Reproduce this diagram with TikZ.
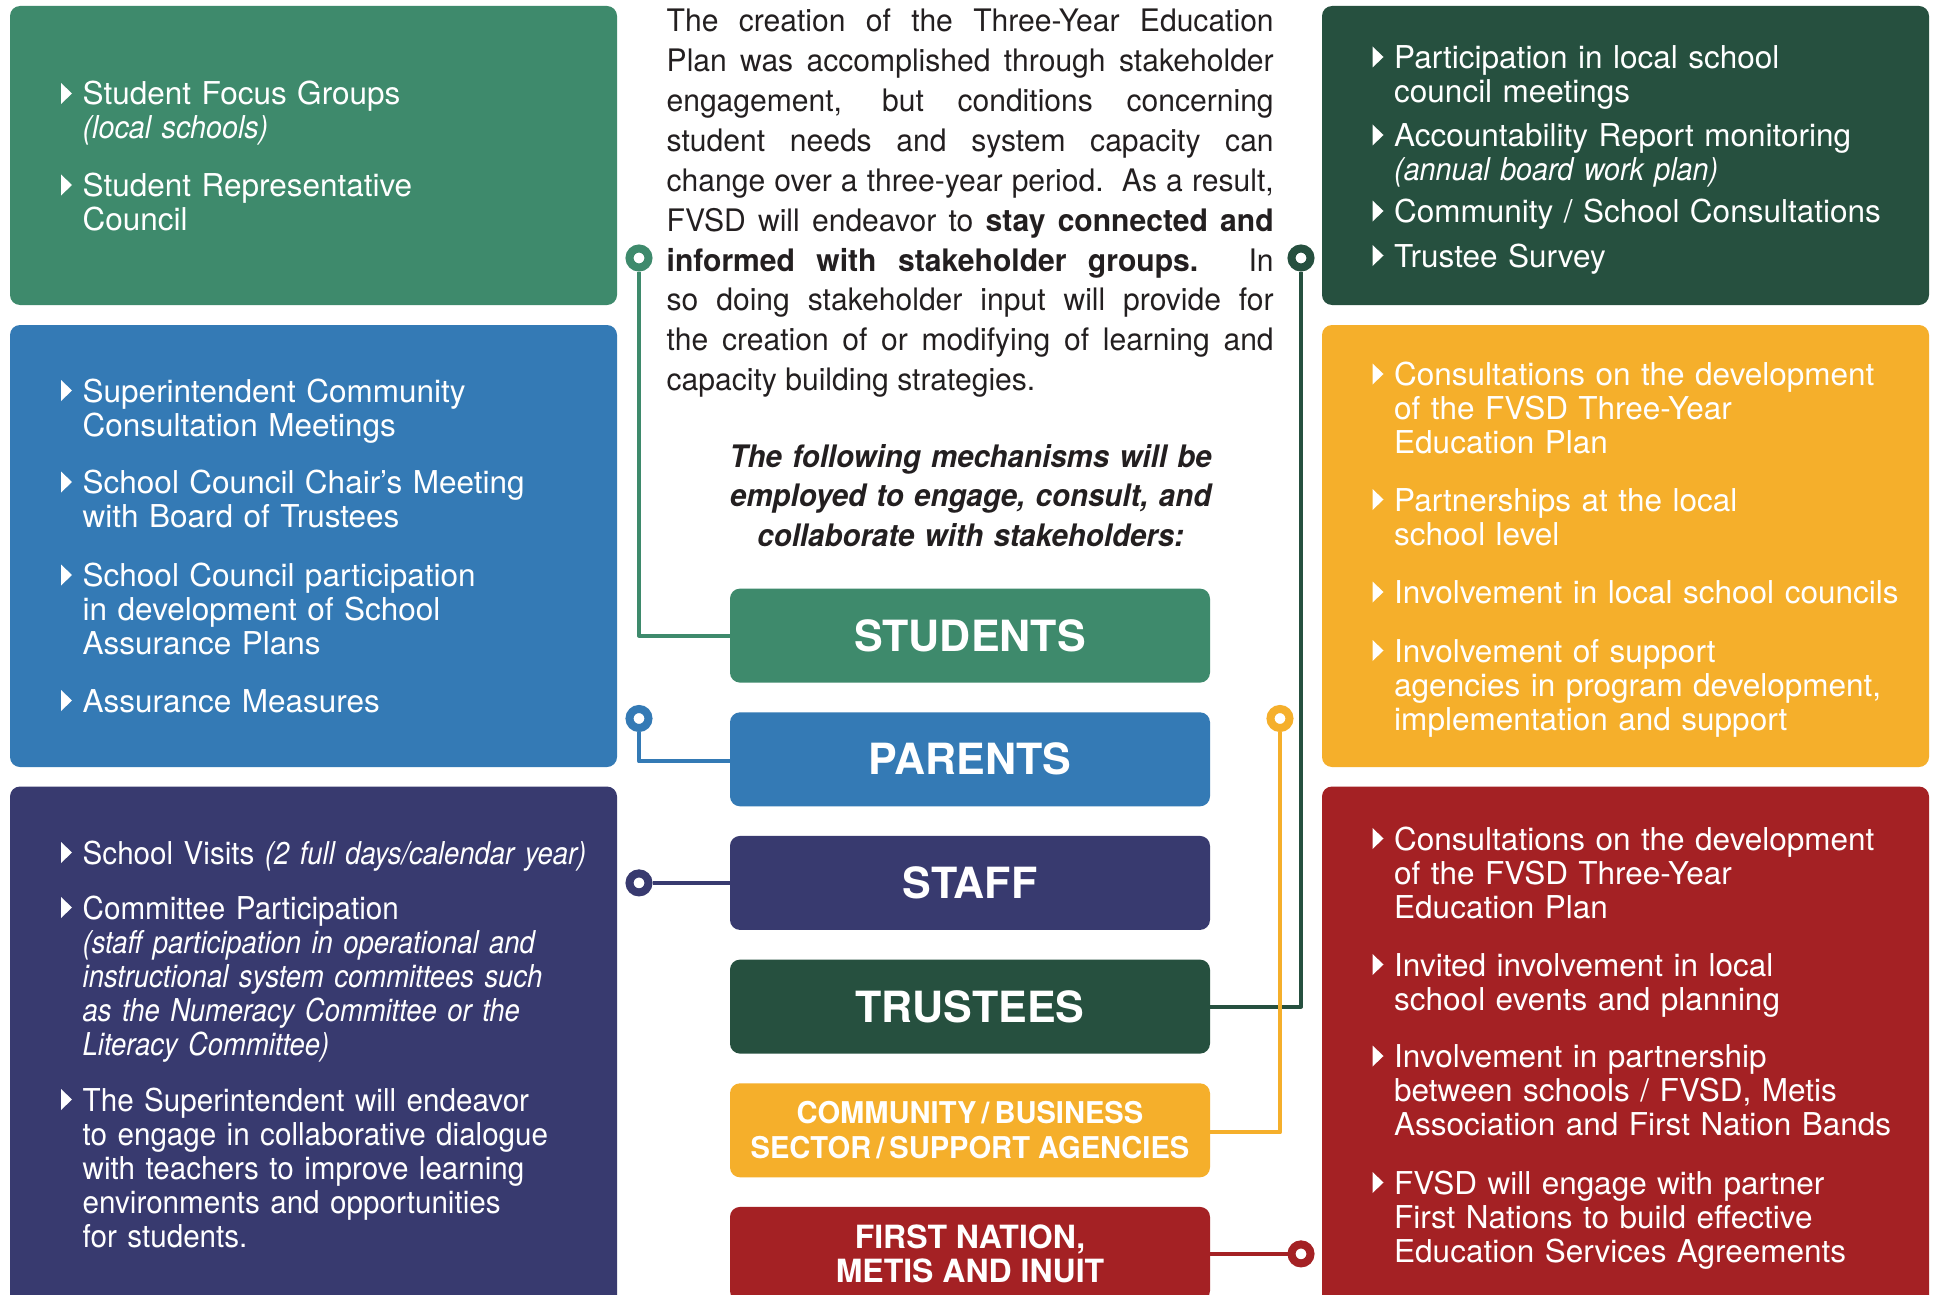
\documentclass[tikz,border=0pt]{standalone}
\usepackage{fontspec}
\setmainfont{TeX Gyre Heros}[ItalicFeatures={FakeStretch=0.91}]
\newfontfamily\bodyfont[FakeStretch=0.97]{TeX Gyre Heros}
\newfontfamily\navyfont[FakeStretch=0.94,ItalicFeatures={FakeStretch=0.87}]{TeX Gyre Heros}
\newfontfamily\headfont[FakeStretch=0.95]{TeX Gyre Heros}
\newfontfamily\labelfont[FakeStretch=0.97]{TeX Gyre Heros}
\usetikzlibrary{calc}

\definecolor{cgreen}{RGB}{62,138,108}
\definecolor{cblue}{RGB}{52,122,181}
\definecolor{cnavy}{RGB}{56,58,111}
\definecolor{cdark}{RGB}{38,80,63}
\definecolor{cyellow}{RGB}{245,175,43}
\definecolor{cred}{RGB}{164,33,36}
\definecolor{ctext}{RGB}{35,31,32}

% bulleted entry: name, x, baseline y, text
\newcommand\bitem[4]{%
  \node[itemtext] (#1) at (#2,#3) {#4};
  \fill[white] ($(#1.base west)+(-21.5,-1)$) -- ++(0,-21) -- ++(11,10.5) -- cycle;}

\begin{document}
\begin{tikzpicture}[x=1pt,y=-1pt,
  panel/.style={fill=#1, rounded corners=10pt},
  stake/.style={fill=#1, rounded corners=10pt, minimum width=480pt,
    minimum height=94pt, inner sep=0pt, text=white, align=center,
    font=\bfseries\fontsize{43}{46}\selectfont},
  itemtext/.style={anchor=base west, inner sep=0pt, text width=560pt,
    align=left, text=white, font=\fontsize{31.5}{34}\selectfont},
  ring/.style={circle, draw=#1, fill=white, line width=8pt,
    minimum size=19pt, inner sep=0pt},
  conn/.style={draw=#1, line width=4.2pt, line join=round}
]
\fill[white] (0,0) rectangle (1939,1295);
\clip (0,0) rectangle (1939,1295);

% side panels
\fill[panel=cgreen]  (10,6)     rectangle (617,305);
\fill[panel=cblue]   (10,325)   rectangle (617,767);
\fill[panel=cnavy]   (10,786.5) rectangle (617,1330);
\fill[panel=cdark]   (1322,6)     rectangle (1929,305);
\fill[panel=cyellow] (1322,325)   rectangle (1929,767);
\fill[panel=cred]    (1322,786.5) rectangle (1929,1330);

% introduction, justified line by line
\node[anchor=base west, inner sep=0pt, text width=607pt, align=left,
  text=ctext, font=\bodyfont\fontsize{31}{39.85}\selectfont] (intro) at (666.5,32) {%
\spaceskip=0pt\xspaceskip=0pt
\makebox[607pt][s]{The creation of the Three-Year Education}\\
\makebox[607pt][s]{Plan was accomplished through stakeholder}\\
\makebox[607pt][s]{engagement, but conditions concerning}\\
\makebox[607pt][s]{student needs and system capacity can}\\
\makebox[607pt][s]{change over a three-year period.\ \ As a result,}\\
\makebox[607pt][s]{FVSD will endeavor to \textbf{stay connected and}}\\
\makebox[607pt][s]{\textbf{informed with stakeholder groups.} In}\\
\makebox[607pt][s]{so doing stakeholder input will provide for}\\
\makebox[607pt][s]{the creation of or modifying of learning and}\\
capacity building strategies.};

\node[anchor=base, inner sep=0pt, text width=560pt, align=center, text=ctext,
  font=\headfont\bfseries\itshape\fontsize{31}{39.85}\selectfont] (lead) at (970.7,467)
  {The following mechanisms will be\\employed to engage, consult, and\\collaborate with stakeholders:};

% stakeholder groups
\node[stake=cgreen]  (students)  at (970,635.6)  {STUDENTS};
\node[stake=cblue]   (parents)   at (970,759.3)  {PARENTS};
\node[stake=cnavy]   (staff)     at (970,882.9)  {STAFF};
\node[stake=cdark]   (trustees)  at (970,1006.6) {TRUSTEES};
\node[stake=cyellow, font=\labelfont\bfseries\fontsize{30}{34.6}\selectfont]
  (community) at (970,1130.3) {COMMUNITY\,/\,BUSINESS\\SECTOR\,/\,SUPPORT AGENCIES};
\node[stake=cred, font=\bfseries\fontsize{32}{33.5}\selectfont]
  (first) at (970,1253.9) {FIRST NATION,\\METIS AND INUIT};

% connectors
\node[ring=cgreen]  (rs) at (639,258)    {};
\node[ring=cblue]   (rp) at (639,718.5)  {};
\node[ring=cnavy]   (rf) at (639,882.9)  {};
\node[ring=cdark]   (rt) at (1301,258)   {};
\node[ring=cyellow] (rc) at (1280,718.5) {};
\node[ring=cred]    (rn) at (1301,1253.9) {};
\draw[conn=cgreen]  (rs) |- (students.west);
\draw[conn=cblue]   (rp) |- ([yshift=-2pt]parents.west);
\draw[conn=cnavy]   (rf) -- (staff.west);
\draw[conn=cdark]   (rt) |- (trustees.east);
\draw[conn=cyellow] (rc) |- ([yshift=-2pt]community.east);
\draw[conn=cred]    (rn) -- (first.east);

% students
\bitem{s1}{82.5}{105}{Student Focus Groups\\\textit{(local schools)}}
\bitem{s2}{82.5}{196.5}{Student Representative\\Council}

% parents
\bitem{p1}{82.5}{402}{Superintendent Community\\Consultation Meetings}
\bitem{p2}{82.5}{493.5}{School Council Chair’s Meeting\\with Board of Trustees}
\bitem{p3}{82.5}{586.5}{School Council participation\\in development of School\\Assurance Plans}
\bitem{p4}{82.5}{712}{Assurance Measures}

% staff
\begin{scope}[itemtext/.append style={font=\navyfont\fontsize{31.5}{34}\selectfont}]
\bitem{t1}{82.5}{864}{School Visits \textit{(2 full days/calendar year)}}
\bitem{t2}{82.5}{919}{Committee Participation\\\textit{(staff participation in operational and\\instructional system committees such\\as the Numeracy Committee or the\\Literacy Committee)}}
\bitem{t3}{82.5}{1111}{The Superintendent will endeavor\\to engage in collaborative dialogue\\with teachers to improve learning\\environments and opportunities\\for students.}
\end{scope}

% trustees
\bitem{r1}{1394}{68.5}{Participation in local school\\council meetings}
\bitem{r2}{1394}{146.5}{Accountability Report monitoring\\\textit{(annual board work plan)}}
\bitem{r3}{1394}{222.5}{Community / School Consultations}
\bitem{r4}{1394}{267}{Trustee Survey}

% community
\bitem{y1}{1394}{385.5}{Consultations on the development\\of the FVSD Three-Year\\Education Plan}
\bitem{y2}{1394}{511}{Partnerships at the local\\school level}
\bitem{y3}{1394}{603.5}{Involvement in local school councils}
\bitem{y4}{1394}{662}{Involvement of support\\agencies in program development,\\implementation and support}

% first nations
\bitem{f1}{1394}{850}{Consultations on the development\\of the FVSD Three-Year\\Education Plan}
\bitem{f2}{1394}{976}{Invited involvement in local\\school events and planning}
\bitem{f3}{1394}{1067.5}{Involvement in partnership\\between schools / FVSD, Metis\\Association and First Nation Bands}
\bitem{f4}{1394}{1194}{FVSD will engage with partner\\First Nations to build effective\\Education Services Agreements}
\end{tikzpicture}
\end{document}
